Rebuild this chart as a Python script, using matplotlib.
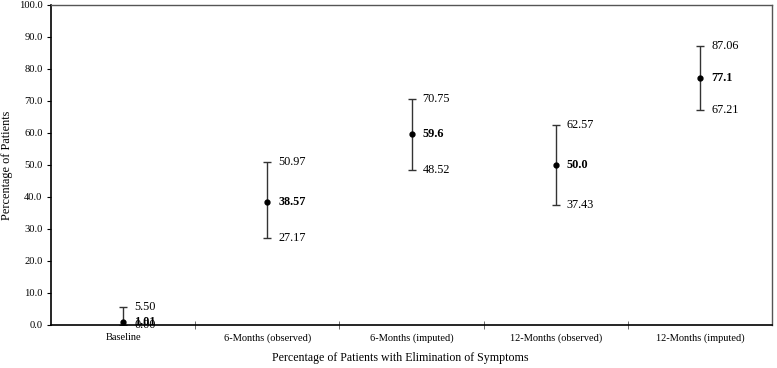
import matplotlib
matplotlib.use("Agg")
import matplotlib.pyplot as plt

categories = ["Baseline", "6-Months (observed)", "6-Months (imputed)", "12-Months (observed)", "12-Months (imputed)"]
means = [1.01, 38.57, 59.6, 50.0, 77.1]
upper = [5.50, 50.97, 70.75, 62.57, 87.06]
lower = [0.00, 27.17, 48.52, 37.43, 67.21]
mean_labels = ["1.01", "38.57", "59.6", "50.0", "77.1"]
upper_labels = ["5.50", "50.97", "70.75", "62.57", "87.06"]
lower_labels = ["0.00", "27.17", "48.52", "37.43", "67.21"]
yticks = [0, 10, 20, 30, 40, 50, 60, 70, 80, 90, 100]

plt.rcParams['font.family'] = ['Liberation Serif', 'DejaVu Serif']

fig = plt.figure(figsize=(7.77, 3.68), dpi=100)
ax = fig.add_axes([51/777, 43/368, 721/777, 320/368])

x = list(range(len(categories)))
yerr = [[m - l for m, l in zip(means, lower)], [u - m for m, u in zip(means, upper)]]
ax.errorbar(x, means, yerr=yerr, fmt='none', ecolor='#333333',
            elinewidth=1, capsize=3, capthick=1)
ax.plot(x, means, 'o', color='black', markersize=3.5, linestyle='none')

for xi, m, u, l, ml, ul, ll in zip(x, means, upper, lower, mean_labels, upper_labels, lower_labels):
    ax.annotate(ul, (xi, u), xytext=(8, 0), textcoords='offset points', va='center', ha='left', fontsize=8.8)
    ax.annotate(ml, (xi, m), xytext=(8, 0), textcoords='offset points', va='center', ha='left', fontsize=8.8, fontweight='bold')
    ax.annotate(ll, (xi, l), xytext=(8, 0), textcoords='offset points', va='center', ha='left', fontsize=8.8)

ax.set_xlim(-0.5, len(categories) - 0.5)
ax.set_ylim(0, 100)
ax.set_yticks(yticks)
ax.set_yticklabels([f"{v:.1f}" for v in yticks], fontsize=7.6)
ax.set_xticks(x)
ax.set_xticklabels(categories, fontsize=7.5)
ax.tick_params(axis='x', length=0, pad=6)
ax.set_xticks([i + 0.5 for i in x[:-1]], minor=True)
ax.tick_params(axis='x', which='minor', length=6, direction='inout', width=0.6, color='#555555')
ax.tick_params(axis='y', length=3, width=0.8, direction='out', pad=3)

ax.set_ylabel("Percentage of Patients", fontsize=8.8)
ax.yaxis.set_label_coords(-38/721, 0.5)
ax.set_xlabel("Percentage of Patients with Elimination of Symptoms", fontsize=8.6)
ax.xaxis.set_label_coords((400 - 51) / 721, -27/320)

for s in ['top', 'right']:
    ax.spines[s].set_color('#555555')
    ax.spines[s].set_linewidth(1.0)
for s in ['left', 'bottom']:
    ax.spines[s].set_color('black')
    ax.spines[s].set_linewidth(1.2)

fig.savefig("out.png", dpi=100)
